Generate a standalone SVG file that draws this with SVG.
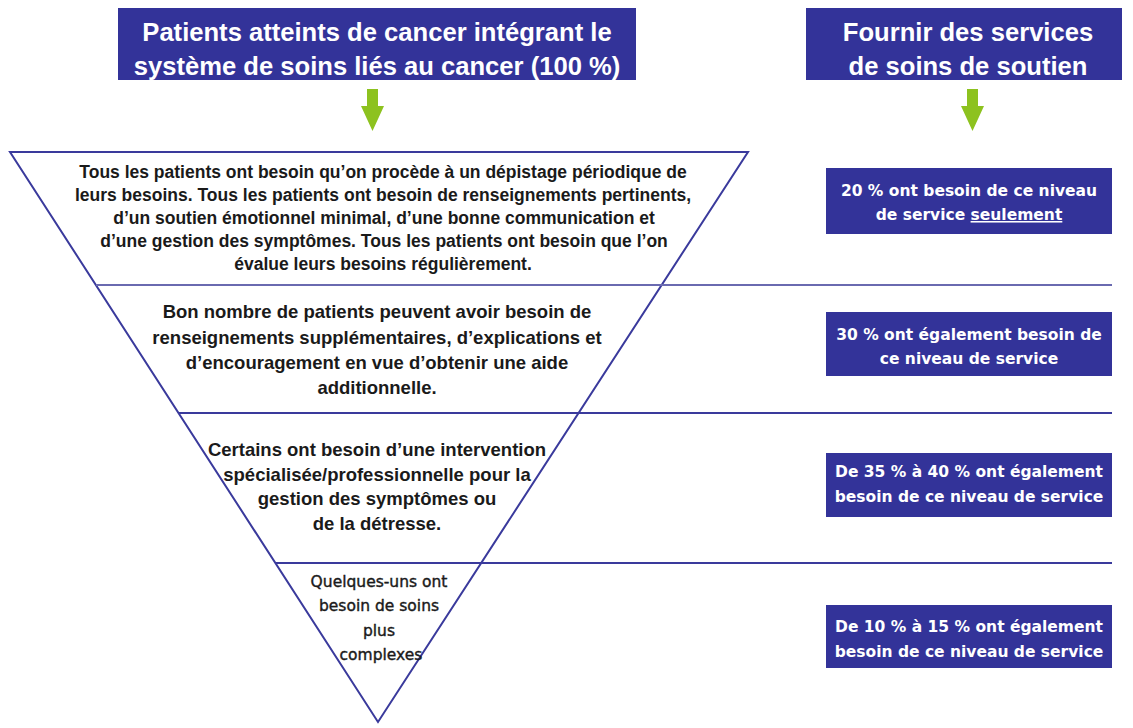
<svg xmlns="http://www.w3.org/2000/svg" width="1133" height="728" viewBox="0 0 1133 728">
<defs>
<style>
.hbox{fill:#333399;}
.htxt{font-family:"Liberation Sans",Arial,sans-serif;font-weight:bold;font-size:25.6px;fill:#ffffff;text-anchor:middle;}
.btxt{font-family:"DejaVu Sans",Verdana,sans-serif;font-weight:bold;font-size:15.5px;fill:#ffffff;text-anchor:middle;}
.t1{font-family:"Liberation Sans",Arial,sans-serif;font-weight:bold;font-size:17.5px;fill:#1a1a1a;text-anchor:middle;}
.t2{font-family:"Liberation Sans",Arial,sans-serif;font-weight:bold;font-size:18.5px;fill:#1a1a1a;text-anchor:middle;}
.qtxt{font-family:"DejaVu Sans",Verdana,sans-serif;font-size:15.5px;fill:#1a1a1a;stroke:#1a1a1a;stroke-width:0.4;text-anchor:middle;}
.line{stroke:#3a3a9c;stroke-width:2;fill:none;}
.arrow{fill:#8dc21f;}
</style>
</defs>
<rect width="1133" height="728" fill="#ffffff"/>
<g id="header-left">
<rect class="hbox" x="118" y="8" width="518" height="72"/>
<text class="htxt" x="377" y="41">Patients atteints de cancer intégrant le</text>
<text class="htxt" x="377" y="75">système de soins liés au cancer (100 %)</text>
</g>
<g id="header-right">
<rect class="hbox" x="806" y="8" width="316" height="72"/>
<text class="htxt" x="968" y="41">Fournir des services</text>
<text class="htxt" x="968" y="75">de soins de soutien</text>
</g>
<g id="arrows">
<polygon class="arrow" points="367,89 378,89 378,106 384,106 372.5,131 361,106 367,106"/>
<polygon class="arrow" points="967,89 978,89 978,106 984,106 972.5,131 961,106 967,106"/>
</g>
<g id="connectors">
<polygon class="line" points="10,152 748,152 378,722"/>
<line class="line" x1="96" y1="285" x2="1112" y2="285" stroke-width="3" style="stroke:#6a6ab0"/>
<line class="line" x1="178" y1="413" x2="1112" y2="413"/>
<line class="line" x1="275" y1="563" x2="1112" y2="563"/>
</g>
<g id="level1">
<text class="t1" x="383" y="178">Tous les patients ont besoin qu’on procède à un dépistage périodique de</text>
<text class="t1" x="383" y="201">leurs besoins. Tous les patients ont besoin de renseignements pertinents,</text>
<text class="t1" x="384" y="224">d’un soutien émotionnel minimal, d’une bonne communication et</text>
<text class="t1" x="384" y="247">d’une gestion des symptômes. Tous les patients ont besoin que l’on</text>
<text class="t1" x="383" y="270">évalue leurs besoins régulièrement.</text>
</g>
<g id="level2">
<text class="t2" x="377" y="318">Bon nombre de patients peuvent avoir besoin de</text>
<text class="t2" x="377" y="344">renseignements supplémentaires, d’explications et</text>
<text class="t2" x="377" y="369">d’encouragement en vue d’obtenir une aide</text>
<text class="t2" x="377" y="394">additionnelle.</text>
</g>
<g id="level3">
<text class="t2" x="377" y="456">Certains ont besoin d’une intervention</text>
<text class="t2" x="377" y="481">spécialisée/professionnelle pour la</text>
<text class="t2" x="377" y="505">gestion des symptômes ou</text>
<text class="t2" x="377" y="530">de la détresse.</text>
</g>
<g id="level4">
<text class="qtxt" x="379" y="587">Quelques-uns ont</text>
<text class="qtxt" x="379" y="611">besoin de soins</text>
<text class="qtxt" x="379" y="636">plus</text>
<text class="qtxt" x="381" y="660">complexes</text>
</g>
<g id="box1">
<rect class="hbox" x="826" y="168" width="286" height="66"/>
<text class="btxt" x="969" y="196">20 % ont besoin de ce niveau</text>
<text class="btxt" x="969" y="220">de service <tspan text-decoration="underline">seulement</tspan></text>
</g>
<g id="box2">
<rect class="hbox" x="826" y="312" width="286" height="64"/>
<text class="btxt" x="969" y="340">30 % ont également besoin de</text>
<text class="btxt" x="969" y="364">ce niveau de service</text>
</g>
<g id="box3">
<rect class="hbox" x="826" y="453" width="286" height="64"/>
<text class="btxt" x="969" y="477">De 35 % à 40 % ont également</text>
<text class="btxt" x="969" y="502">besoin de ce niveau de service</text>
</g>
<g id="box4">
<rect class="hbox" x="826" y="605" width="286" height="63"/>
<text class="btxt" x="969" y="632">De 10 % à 15 % ont également</text>
<text class="btxt" x="969" y="657">besoin de ce niveau de service</text>
</g>
</svg>
